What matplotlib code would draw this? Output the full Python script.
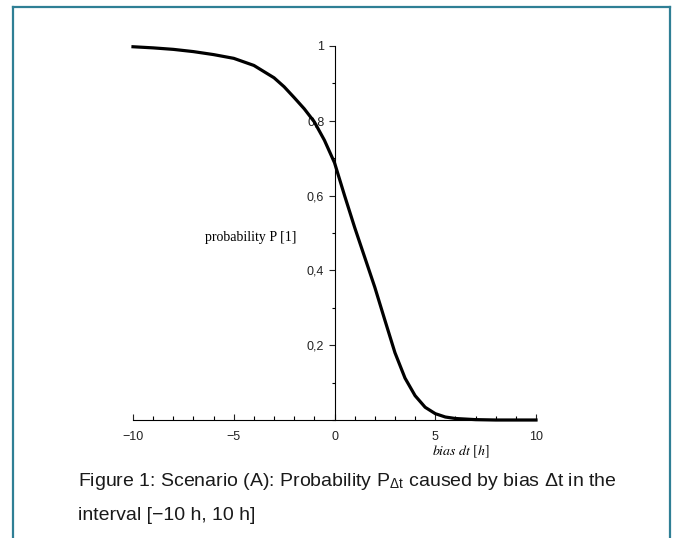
import matplotlib.pyplot as plt
import numpy as np
from matplotlib.ticker import MultipleLocator, FixedLocator, FixedFormatter

# values
bias = [-10, -9, -8, -7, -6, -5, -4, -3, -2.5, -2, -1.5, -1, -0.5, 0, 0.5, 1,
        1.5, 2, 2.5, 3, 3.5, 4, 4.5, 5, 5.5, 6, 7, 8, 9, 10]
prob = [0.998, 0.995, 0.991, 0.985, 0.977, 0.967, 0.948, 0.915, 0.891, 0.862,
        0.832, 0.797, 0.748, 0.688, 0.600, 0.515, 0.435, 0.355, 0.267, 0.180,
        0.112, 0.065, 0.034, 0.017, 0.008, 0.004, 0.001, 0.0, 0.0, 0.0]

xticks = [-10, -5, 0, 5, 10]
xticklabels = ["\u221210", "\u22125", "0", "5", "10"]
yticks = [0.2, 0.4, 0.6, 0.8, 1.0]
yticklabels = ["0,2", "0,4", "0,6", "0,8", "1"]

plt.rcParams['mathtext.fontset'] = 'stix'

fig = plt.figure(figsize=(6.75, 5.38), dpi=100)
ax = fig.add_axes([133/675, 118/538, 403/675, 374/538])

ax.plot(bias, prob, color="black", lw=2.3, clip_on=False, solid_joinstyle="round")

ax.set_xlim(-10, 10)
ax.set_ylim(0, 1)
ax.spines["top"].set_visible(False)
ax.spines["right"].set_visible(False)
ax.spines["left"].set_position(("data", 0))
ax.spines["bottom"].set_position(("data", 0))
for s in ["left", "bottom"]:
    ax.spines[s].set_linewidth(0.8)

ax.xaxis.set_major_locator(FixedLocator(xticks))
ax.xaxis.set_major_formatter(FixedFormatter(xticklabels))
ax.xaxis.set_minor_locator(MultipleLocator(1))
ax.yaxis.set_major_locator(FixedLocator(yticks))
ax.yaxis.set_major_formatter(FixedFormatter(yticklabels))
ax.yaxis.set_minor_locator(MultipleLocator(0.1))

ax.tick_params(axis="x", which="major", direction="in", length=4, width=0.8,
               labelsize=9, pad=8, colors="#222222")
ax.tick_params(axis="x", which="minor", direction="in", length=3, width=0.8)
ax.tick_params(axis="y", which="major", direction="out", length=4.3, width=0.8,
               labelsize=9, pad=3, colors="#222222")
ax.tick_params(axis="y", which="minor", direction="out", length=2, width=0.8)
for lab in ax.get_xticklabels() + ax.get_yticklabels():
    lab.set_fontfamily("Liberation Sans")

fig.text(251/675, 1 - 237/538, "probability P [1]", family="Liberation Serif",
         fontsize=10, ha="center", va="center")
fig.text(461/675, 1 - 452/538, r"$bias\ dt\ [h]$", fontsize=10,
         ha="center", va="center")

# caption
fig.text(78/675, 1 - 482/538,
         "Figure 1: Scenario (A): Probability P$_{\\mathregular{\u0394t}}$ caused by bias \u0394t in the",
         family="Liberation Sans", fontsize=14, ha="left", va="center", color="#1a1a1a")
fig.text(78/675, 1 - 516/538, "interval [\u221210 h, 10 h]",
         family="Liberation Sans", fontsize=14, ha="left", va="center", color="#1a1a1a")

# frame around the figure box
col = "#2f7f95"
fig.add_artist(plt.Line2D([13/675, 670/675], [1 - 7/538, 1 - 7/538],
                          transform=fig.transFigure, color=col, lw=1.6))
fig.add_artist(plt.Line2D([13/675, 13/675], [0, 1 - 7/538],
                          transform=fig.transFigure, color=col, lw=1.6))
fig.add_artist(plt.Line2D([670/675, 670/675], [0, 1 - 7/538],
                          transform=fig.transFigure, color=col, lw=1.6))

fig.savefig("out.png", dpi=100)
